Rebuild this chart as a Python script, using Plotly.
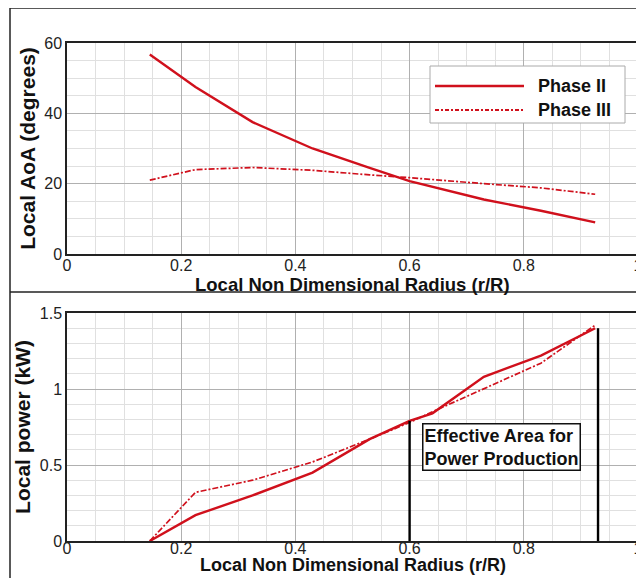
import plotly.graph_objects as go

# ---- data ----
r_top = [0.145, 0.225, 0.325, 0.43, 0.53, 0.6, 0.73, 0.83, 0.925]
aoa_phase2 = [56.7, 47.5, 37.5, 30.0, 24.5, 20.7, 15.5, 12.3, 9.0]
aoa_phase3 = [21.0, 24.0, 24.6, 23.8, 22.5, 21.7, 20.0, 18.8, 17.0]

r_bot = [0.145, 0.225, 0.325, 0.43, 0.53, 0.6, 0.64, 0.73, 0.83, 0.925]
pow_phase2 = [0.0, 0.17, 0.30, 0.45, 0.67, 0.79, 0.84, 1.08, 1.22, 1.40]
pow_phase3 = [0.0, 0.32, 0.40, 0.52, 0.67, 0.78, 0.85, 1.00, 1.17, 1.42]

eff_x = [0.6, 0.93]
eff_top = [0.79, 1.40]

series_names = ["Phase II", "Phase III"]
x_ticks = [0, 0.2, 0.4, 0.6, 0.8, 1]
x_ticklabels = ["0", "0.2", "0.4", "0.6", "0.8", "1"]
y_top_ticks = [0, 20, 40, 60]
y_bot_ticks = [0, 0.5, 1, 1.5]
y_bot_ticklabels = ["0", "0.5", "1", "1.5"]

RED = "#d0101c"
FONT = "Arial"
DASHDOT = "6px,2px,2px,2px"
OFF = 8
W, H = 644 - OFF, 578 - OFF
ML, MR = 67 - OFF, 14 - OFF

def px_x(p):
    return (p - OFF - ML) / (W - ML - MR)

def py(p):
    return 1 - (p - OFF) / H

fig = go.Figure()
fig.add_trace(go.Scatter(x=r_top, y=aoa_phase2, mode="lines", name=series_names[0],
                         line=dict(color=RED, width=2.4), xaxis="x", yaxis="y"))
fig.add_trace(go.Scatter(x=r_top, y=aoa_phase3, mode="lines", name=series_names[1],
                         line=dict(color=RED, width=1.7, dash=DASHDOT), xaxis="x", yaxis="y"))
fig.add_trace(go.Scatter(x=r_bot, y=pow_phase2, mode="lines", name=series_names[0],
                         line=dict(color=RED, width=2.4), xaxis="x2", yaxis="y2"))
fig.add_trace(go.Scatter(x=r_bot, y=pow_phase3, mode="lines", name=series_names[1],
                         line=dict(color=RED, width=1.7, dash=DASHDOT), xaxis="x2", yaxis="y2"))
for xe, ye in zip(eff_x, eff_top):
    fig.add_trace(go.Scatter(x=[xe, xe], y=[0, ye], mode="lines",
                             line=dict(color="black", width=2.4), xaxis="x2", yaxis="y2"))

tickfont = dict(family=FONT, size=16, color="#222")
xcommon = dict(range=[0, 1], tickvals=x_ticks, ticktext=x_ticklabels, automargin=False,
               showgrid=True, gridcolor="#b0b0b0", gridwidth=1,
               minor=dict(dtick=0.05, showgrid=True, gridcolor="#e0e0e0", gridwidth=1),
               showline=True, linecolor="#222", linewidth=1.5, mirror=True,
               ticks="", zeroline=False, tickfont=tickfont)
ycommon = dict(automargin=False, showgrid=True, gridcolor="#b0b0b0",
               showline=True, linecolor="#222", linewidth=1.5, mirror=True, ticks="",
               zeroline=False, tickfont=tickfont)

fig.update_layout(
    width=W, height=H,
    margin=dict(l=ML, r=MR, t=0, b=0),
    paper_bgcolor="white", plot_bgcolor="white",
    showlegend=False,
    xaxis=dict(domain=[0, 1], anchor="y", ticklabelstandoff=-4, **xcommon),
    yaxis=dict(domain=[py(254), py(43)], anchor="x", range=[0, 60], tickvals=y_top_ticks,
               minor=dict(dtick=5, showgrid=True, gridcolor="#e0e0e0"),
               title=dict(text="<b>Local AoA (degrees)</b>", font=dict(family=FONT, size=21, color="#111"), standoff=3),
               **ycommon),
    xaxis2=dict(domain=[0, 1], anchor="y2", ticklabelstandoff=-8, **xcommon),
    yaxis2=dict(domain=[py(541), py(313)], anchor="x2", range=[0, 1.5], tickvals=y_bot_ticks,
                ticktext=y_bot_ticklabels,
                minor=dict(dtick=0.1, showgrid=True, gridcolor="#e0e0e0"),
                title=dict(text="<b>Local power (kW)</b>", font=dict(family=FONT, size=21, color="#111"), standoff=3),
                **ycommon),
)

# x-axis titles placed just under the tick labels
fig.add_annotation(xref="paper", yref="paper", x=0.5, y=py(284), xanchor="center", yanchor="middle",
                   text="<b>Local Non Dimensional Radius (r/R)</b>", showarrow=False,
                   font=dict(family=FONT, size=18.5, color="#111"))
fig.add_annotation(xref="paper", yref="paper", x=0.5, y=py(577), xanchor="center", yanchor="bottom",
                   text="<b>Local Non Dimensional Radius (r/R)</b>", showarrow=False,
                   font=dict(family=FONT, size=18, color="#111"))

# manual legend (box, sample lines, labels) in top panel
fig.add_shape(type="rect", xref="paper", yref="paper", x0=px_x(430), x1=px_x(625), y0=py(123), y1=py(66),
              line=dict(color="#aaa", width=1), fillcolor="white", layer="above")
fig.add_shape(type="line", xref="paper", yref="paper", x0=px_x(435), x1=px_x(524), y0=py(86), y1=py(86),
              line=dict(color=RED, width=2.4), layer="above")
fig.add_shape(type="line", xref="paper", yref="paper", x0=px_x(435), x1=px_x(524), y0=py(110), y1=py(110),
              line=dict(color=RED, width=1.8, dash="4px,2px,2px,2px"), layer="above")
for name, ypix in zip(series_names, [86, 110]):
    fig.add_annotation(xref="paper", yref="paper", x=px_x(536), y=py(ypix), xanchor="left", yanchor="middle",
                       text="<b>" + name + "</b>", showarrow=False,
                       font=dict(family=FONT, size=18, color="#111"))

fig.add_annotation(xref="x2", yref="y2", x=0.621, y=0.617, xanchor="left", yanchor="middle",
                   text="<b>Effective Area for<br>Power Production</b>", showarrow=False, align="left",
                   font=dict(family=FONT, size=18, color="#111"),
                   bgcolor="white", bordercolor="#111", borderwidth=1.5, borderpad=1)

# frame lines of the figure panels
for shp in [dict(x0=px_x(10), x1=px_x(644), y0=py(8), y1=py(8)),
            dict(x0=px_x(10), x1=px_x(10), y0=0, y1=py(8)),
            dict(x0=px_x(10), x1=px_x(644), y0=py(292), y1=py(292))]:
    fig.add_shape(type="line", xref="paper", yref="paper", line=dict(color="#222", width=1.5), **shp)

fig.write_html("out.html")
